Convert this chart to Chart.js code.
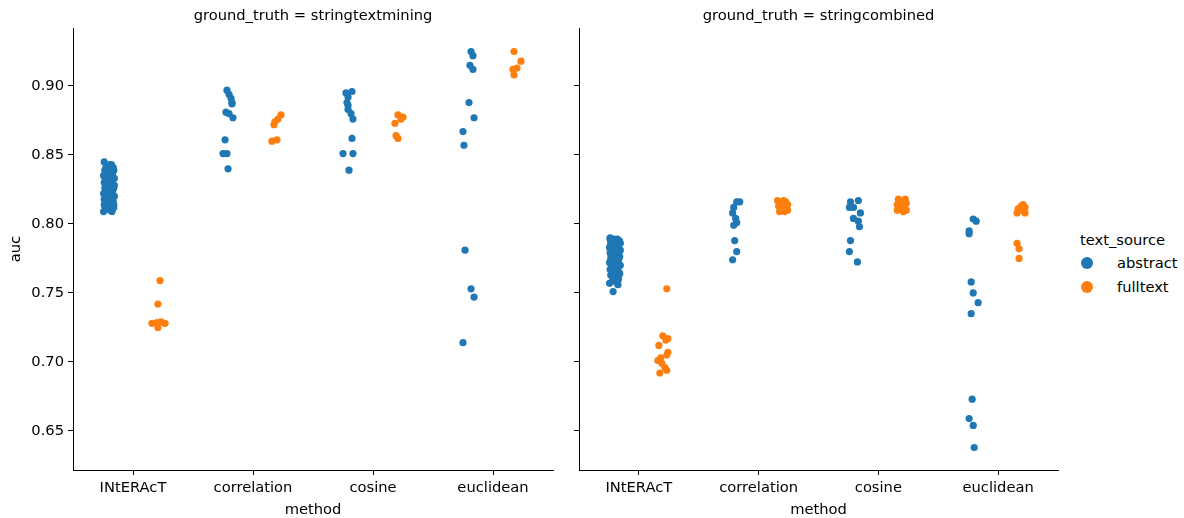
<!DOCTYPE html>
<html>
<head>
<meta charset="utf-8">
<script src="https://cdn.jsdelivr.net/npm/chart.js@4/dist/chart.umd.min.js"></script>
<style>
  body { margin: 0; background: #fff; font-family: "DejaVu Sans", sans-serif; }
  #wrap { position: relative; width: 1184px; height: 518px; overflow: hidden; }
  canvas { position: absolute; top: 0; }
  #stm { left: 0; }
  #sc { left: 506px; }
  .legend { position: absolute; left: 1080px; top: 229px; font-size: 14.7px; color: #000; }
  .legend .ttl { height: 22px; line-height: 22px; }
  .legend .item { height: 24px; line-height: 24px; position: relative; padding-left: 37px; }
  .legend .dot { position: absolute; left: 1px; top: 6px; width: 12px; height: 12px; border-radius: 50%; }
</style>
</head>
<body>
<div id="wrap">
  <canvas id="stm" width="560" height="518"></canvas>
  <canvas id="sc" width="559" height="518"></canvas>
  <div class="legend">
    <div class="ttl">text_source</div>
    <div class="item"><span class="dot" style="background:#1f77b4"></span>abstract</div>
    <div class="item"><span class="dot" style="background:#ff7f0e"></span>fulltext</div>
  </div>
</div>
<script>
const methods = ['INtERAcT', 'correlation', 'cosine', 'euclidean'];
const yTicks = [0.65, 0.70, 0.75, 0.80, 0.85, 0.90];

// auc per method, ground_truth = stringtextmining
const stmAbstract = [
  [0.845, 0.843, 0.842, 0.841, 0.841, 0.840, 0.839, 0.839, 0.838, 0.837, 0.837, 0.836, 0.835, 0.835,
   0.834, 0.834, 0.833, 0.832, 0.832, 0.831, 0.830, 0.830, 0.829, 0.829, 0.828, 0.827, 0.827, 0.826,
   0.826, 0.825, 0.824, 0.824, 0.823, 0.823, 0.822, 0.822, 0.821, 0.820, 0.820, 0.819, 0.819, 0.818,
   0.818, 0.817, 0.816, 0.816, 0.815, 0.815, 0.814, 0.813, 0.813, 0.812, 0.811, 0.811, 0.810, 0.809,
   0.809, 0.833, 0.828, 0.821, 0.817, 0.838, 0.825, 0.814, 0.836, 0.831, 0.826, 0.819, 0.843, 0.812],
  [0.897, 0.894, 0.891, 0.888, 0.887, 0.881, 0.880, 0.877, 0.861, 0.851, 0.851, 0.840],
  [0.896, 0.895, 0.892, 0.888, 0.886, 0.883, 0.880, 0.876, 0.862, 0.851, 0.851, 0.839],
  [0.925, 0.922, 0.915, 0.912, 0.888, 0.877, 0.867, 0.857, 0.781, 0.753, 0.747, 0.714]
];
const stmFulltext = [
  [0.759, 0.742, 0.728, 0.7285, 0.729, 0.728, 0.725],
  [0.879, 0.876, 0.874, 0.872, 0.861, 0.860],
  [0.879, 0.8775, 0.876, 0.873, 0.864, 0.862],
  [0.925, 0.918, 0.913, 0.912, 0.908]
];

// auc per method, ground_truth = stringcombined
const scAbstract = [
  [0.790, 0.789, 0.789, 0.788, 0.788, 0.787, 0.787, 0.786, 0.786, 0.785, 0.785, 0.784, 0.784, 0.783,
   0.783, 0.782, 0.781, 0.781, 0.780, 0.780, 0.779, 0.779, 0.778, 0.778, 0.777, 0.777, 0.776, 0.776,
   0.775, 0.775, 0.774, 0.774, 0.773, 0.773, 0.772, 0.772, 0.771, 0.770, 0.770, 0.769, 0.769, 0.768,
   0.767, 0.767, 0.766, 0.765, 0.765, 0.764, 0.764, 0.763, 0.762, 0.761, 0.760, 0.759, 0.758, 0.757,
   0.756, 0.751, 0.786, 0.780, 0.775, 0.771, 0.766, 0.789, 0.783, 0.778],
  [0.816, 0.816, 0.812, 0.808, 0.804, 0.801, 0.799, 0.788, 0.780, 0.774],
  [0.816, 0.817, 0.812, 0.812, 0.808, 0.804, 0.802, 0.798, 0.788, 0.780, 0.7725],
  [0.8036, 0.802, 0.795, 0.793, 0.758, 0.750, 0.743, 0.735, 0.673, 0.659, 0.654, 0.638]
];
const scFulltext = [
  [0.753, 0.719, 0.717, 0.716, 0.712, 0.707, 0.705, 0.703, 0.701, 0.699, 0.696, 0.694, 0.692],
  [0.817, 0.817, 0.816, 0.815, 0.814, 0.813, 0.812, 0.811, 0.810, 0.810, 0.809, 0.809],
  [0.818, 0.818, 0.816, 0.815, 0.814, 0.813, 0.812, 0.811, 0.810, 0.810, 0.809],
  [0.814, 0.813, 0.812, 0.811, 0.810, 0.809, 0.808, 0.808, 0.786, 0.782, 0.775]
];

// strip jitter (in category units); null -> cycle the generic pattern
const jitterPattern = [-0.04, 0.02, -0.01, 0.035, -0.025, 0.005, 0.04, -0.035, 0.015, -0.005,
                       0.03, -0.02, 0.01, -0.045, 0.025, -0.015, 0.045, 0, -0.03, 0.02, -0.008];
const stmAbstractJit = [
  null,
  [-0.017, 0, 0.017, 0.025, 0.025, -0.025, 0, 0.033, -0.033, -0.05, -0.017, -0.008],
  [0.025, -0.025, -0.008, -0.017, -0.008, -0.008, 0.017, 0.033, 0.025, -0.05, 0.033, 0],
  [0.017, 0.033, 0.008, 0.033, 0, 0.042, -0.05, -0.042, -0.033, 0.017, 0.042, -0.05]
];
const stmFulltextJit = [
  [0.025, 0.008, -0.042, 0, 0.033, 0.067, 0.008],
  [0.033, 0.008, -0.017, -0.025, 0, -0.042],
  [0.008, 0.05, 0.033, -0.017, -0.008, 0.008],
  [-0.025, 0.033, 0, -0.033, -0.025]
];
const scAbstractJit = [
  null,
  [0.017, 0.042, -0.008, -0.017, 0.008, 0.017, -0.008, 0, 0.017, -0.017],
  [-0.033, 0.033, -0.042, -0.008, 0.05, -0.008, 0.033, 0.042, -0.033, -0.042, 0.025],
  [-0.008, 0.017, -0.042, -0.042, -0.025, -0.008, 0.033, -0.025, -0.017, -0.042, -0.008, 0]
];
const scFulltextJit = [
  [0.033, 0, 0.042, 0.025, -0.033, 0.042, 0.033, -0.017, -0.042, -0.008, 0.017, 0.033, -0.025],
  [-0.042, 0.008, 0.025, -0.017, 0.042, -0.033, 0, 0.025, -0.008, 0.042, 0.017, -0.025],
  [-0.033, 0.025, -0.008, 0.033, -0.042, 0, 0.017, -0.025, 0.033, -0.042, 0.008],
  [0.008, -0.008, 0.025, -0.033, 0, 0.017, -0.042, 0.025, -0.042, -0.025, -0.025]
];

const BLUE = '#1f77b4';
const ORANGE = '#ff7f0e';
const FONT = { family: 'DejaVu Sans', size: 14.7, lineHeight: 1.2 };

function stripPoints(groups, jitters, dodge) {
  const pts = [];
  groups.forEach(function (vals, i) {
    vals.forEach(function (v, k) {
      const jit = jitters[i] ? jitters[i][k] : jitterPattern[k % jitterPattern.length];
      pts.push({ x: i + dodge + jit, y: v });
    });
  });
  return pts;
}

function makePanel(id, title, abstractVals, abstractJit, fulltextVals, fulltextJit, isFirst) {
  const ctx = document.getElementById(id).getContext('2d');
  return new Chart(ctx, {
    type: 'scatter',
    data: {
      datasets: [
        {
          label: 'abstract',
          data: stripPoints(abstractVals, abstractJit, -0.2),
          backgroundColor: BLUE,
          pointRadius: 3.6,
          pointBorderWidth: 0,
        },
        {
          label: 'fulltext',
          data: stripPoints(fulltextVals, fulltextJit, 0.2),
          backgroundColor: ORANGE,
          pointRadius: 3.6,
          pointBorderWidth: 0,
        }
      ]
    },
    options: {
      responsive: false,
      animation: false,
      devicePixelRatio: 1,
      layout: { padding: { top: 0, right: 7, bottom: 0, left: 0 } },
      plugins: {
        legend: { display: false },
        tooltip: { enabled: false },
        title: {
          display: true,
          text: title,
          fullSize: false,
          color: '#000',
          font: { family: 'DejaVu Sans', size: 14.7, weight: 'normal', lineHeight: 1.2 },
          padding: { top: 7, bottom: 3.4 }
        }
      },
      scales: {
        x: {
          type: 'linear',
          min: -0.5,
          max: 3.5,
          afterBuildTicks: function (scale) {
            scale.ticks = methods.map(function (m, i) { return { value: i }; });
          },
          afterFit: function (scale) { scale.height = 48; },
          ticks: {
            callback: function (v) { return methods[v]; },
            color: '#000',
            font: FONT,
            padding: 4,
            maxRotation: 0,
            autoSkip: false
          },
          grid: { display: true, drawOnChartArea: false, drawTicks: true, tickLength: 5, tickColor: '#000', tickWidth: 1 },
          border: { display: true, color: '#000', width: 1 },
          title: { display: true, text: 'method', color: '#000', font: FONT, padding: { top: 0, bottom: -1 } }
        },
        y: {
          type: 'linear',
          min: 0.6217,
          max: 0.942,
          afterBuildTicks: function (scale) {
            scale.ticks = yTicks.map(function (v) { return { value: v }; });
          },
          afterFit: function (scale) { scale.width = 73; },
          ticks: {
            display: isFirst,
            callback: function (v) { return v.toFixed(2); },
            color: '#000',
            font: FONT,
            padding: 4
          },
          grid: { display: true, drawOnChartArea: false, drawTicks: true, tickLength: 5, tickColor: '#000', tickWidth: 1 },
          border: { display: true, color: '#000', width: 1 },
          title: { display: isFirst, text: 'auc', color: '#000', font: FONT, padding: { top: 7, bottom: 0 } }
        }
      }
    }
  });
}

makePanel('stm', 'ground_truth = stringtextmining', stmAbstract, stmAbstractJit, stmFulltext, stmFulltextJit, true);
makePanel('sc', 'ground_truth = stringcombined', scAbstract, scAbstractJit, scFulltext, scFulltextJit, false);
</script>
</body>
</html>
